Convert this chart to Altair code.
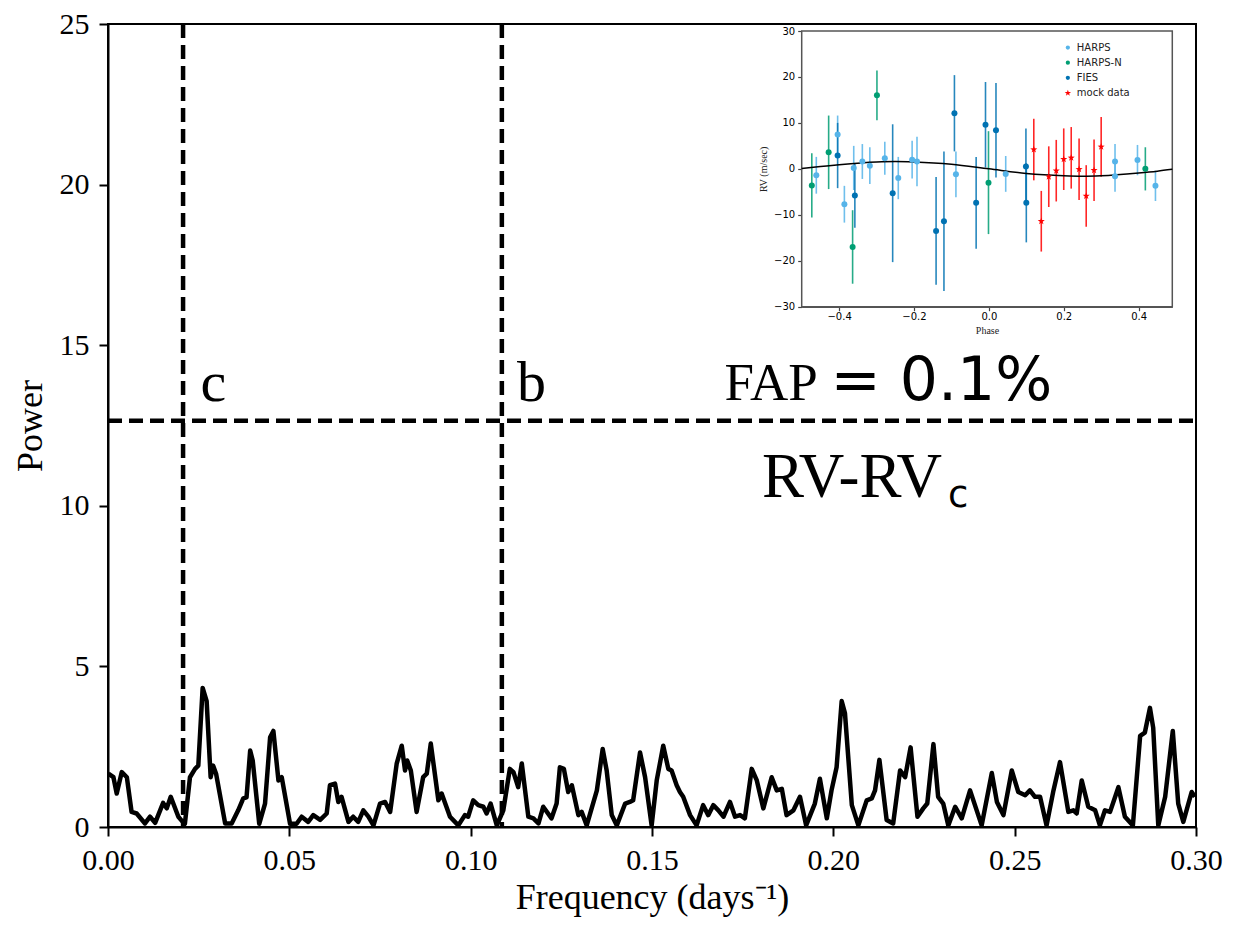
import altair as alt
import pandas as pd

# ---------------- main periodogram (RV - RV_c) ----------------
freq = [0.0001, 0.0015, 0.0024, 0.0038, 0.0052, 0.0065, 0.0079, 0.0102, 0.0116, 0.0130,
        0.0152, 0.0162, 0.0173, 0.0194, 0.0206, 0.0212, 0.0226, 0.0240, 0.0249, 0.0261,
        0.0272, 0.0283, 0.0290, 0.0298, 0.0323, 0.0341, 0.0359, 0.0373, 0.0382, 0.0392,
        0.0399, 0.0417, 0.0433, 0.0447, 0.0456, 0.0470, 0.0479, 0.0502, 0.0520, 0.0534,
        0.0552, 0.0566, 0.0585, 0.0603, 0.0612, 0.0626, 0.0635, 0.0644, 0.0663, 0.0676,
        0.0690, 0.0704, 0.0718, 0.0732, 0.0750, 0.0764, 0.0778, 0.0796, 0.0810, 0.0819,
        0.0825, 0.0835, 0.0851, 0.0869, 0.0879, 0.0890, 0.0911, 0.0920, 0.0943, 0.0966,
        0.0984, 0.0993, 0.1007, 0.1021, 0.1035, 0.1044, 0.1055, 0.1072, 0.1090, 0.1108,
        0.1118, 0.1131, 0.1141, 0.1159, 0.1173, 0.1187, 0.1200, 0.1223, 0.1237, 0.1246,
        0.1257, 0.1269, 0.1279, 0.1297, 0.1306, 0.1320, 0.1348, 0.1364, 0.1375, 0.1389,
        0.1403, 0.1426, 0.1439, 0.1448, 0.1467, 0.1481, 0.1499, 0.1513, 0.1531, 0.1545,
        0.1554, 0.1568, 0.1577, 0.1586, 0.1605, 0.1623, 0.1641, 0.1655, 0.1669, 0.1683,
        0.1697, 0.1715, 0.1729, 0.1743, 0.1756, 0.1775, 0.1789, 0.1807, 0.1830, 0.1844,
        0.1858, 0.1871, 0.1890, 0.1908, 0.1925, 0.1949, 0.1963, 0.1982, 0.1995, 0.2009,
        0.2023, 0.2032, 0.2051, 0.2069, 0.2092, 0.2106, 0.2115, 0.2127, 0.2147, 0.2165,
        0.2184, 0.2198, 0.2213, 0.2232, 0.2248, 0.2259, 0.2276, 0.2289, 0.2303, 0.2317,
        0.2336, 0.2354, 0.2377, 0.2409, 0.2437, 0.2451, 0.2469, 0.2492, 0.2510, 0.2529,
        0.2542, 0.2556, 0.2570, 0.2588, 0.2607, 0.2625, 0.2648, 0.2662, 0.2671, 0.2685,
        0.2703, 0.2722, 0.2735, 0.2749, 0.2763, 0.2786, 0.2804, 0.2826, 0.2846, 0.2859,
        0.2873, 0.2882, 0.2896, 0.2915, 0.2936, 0.2951, 0.2965, 0.2988, 0.2997]
power = [1.66, 1.55, 1.04, 1.71, 1.55, 0.47, 0.42, 0.11, 0.32, 0.13,
         0.75, 0.58, 0.94, 0.32, 0.16, 0.10, 1.55, 1.81, 1.91, 4.33,
         3.92, 1.55, 1.91, 1.66, 0.11, 0.11, 0.52, 0.89, 0.92, 2.38,
         2.07, 0.10, 0.73, 2.79, 2.99, 1.45, 1.55, 0.10, 0.10, 0.32,
         0.16, 0.37, 0.22, 0.42, 1.30, 1.35, 0.78, 0.94, 0.16, 0.32,
         0.16, 0.52, 0.32, 0.05, 0.73, 0.78, 0.47, 1.97, 2.53, 1.76,
         2.07, 1.76, 0.47, 1.55, 1.66, 2.60, 0.83, 1.04, 0.32, 0.05,
         0.37, 0.32, 0.83, 0.68, 0.63, 0.42, 0.73, 0.05, 0.52, 1.81,
         1.71, 1.24, 1.98, 0.32, 0.27, 0.11, 0.63, 0.27, 0.73, 1.86,
         1.81, 1.09, 1.30, 0.37, 0.47, 0.05, 1.14, 2.43, 1.76, 0.37,
         0.05, 0.73, 0.78, 0.83, 2.32, 1.55, 0.05, 1.45, 2.53, 1.81,
         1.76, 1.30, 1.09, 0.94, 0.37, 0.05, 0.68, 0.37, 0.68, 0.52,
         0.32, 0.78, 0.32, 0.37, 0.27, 1.81, 1.45, 0.58, 1.55, 1.14,
         1.19, 0.37, 0.52, 0.94, 0.05, 0.73, 1.50, 0.27, 1.14, 1.86,
         3.92, 3.55, 0.68, 0.05, 0.83, 0.89, 1.14, 2.09, 0.22, 0.11,
         1.76, 1.55, 2.48, 0.32, 0.58, 0.73, 2.58, 0.94, 0.73, 0.05,
         0.63, 0.27, 1.14, 0.05, 1.68, 0.78, 0.37, 1.76, 1.09, 0.99,
         1.14, 0.94, 0.94, 0.05, 1.14, 2.02, 0.47, 0.52, 0.42, 1.45,
         0.63, 0.52, 0.05, 0.52, 0.47, 1.24, 0.32, 0.05, 2.84, 2.94,
         3.71, 3.09, 0.05, 0.94, 2.99, 0.73, 0.16, 1.09, 0.94]

planet_freqs = [0.0207, 0.1086]      # planet c, planet b
fap_level = [12.65]                  # FAP = 0.1 %

x_ticks = [0.00, 0.05, 0.10, 0.15, 0.20, 0.25, 0.30]
y_ticks = [0, 5, 10, 15, 20, 25]

# ---------------- inset: phase-folded RV ----------------
harps_phase = [-0.461, -0.404, -0.386, -0.361, -0.338, -0.318, -0.278, -0.242, -0.205, -0.192,
               -0.088, 0.045, 0.337, 0.337, 0.397, 0.445]
harps_rv = [-1.4, 7.5, -7.7, 0.2, 1.6, 0.7, 2.3, -2.0, 2.0, 1.6, -1.2, -1.1, 1.6, -1.6, 1.9, -3.7]
harps_err = [4.0, 4.1, 4.0, 4.8, 3.8, 4.0, 3.6, 4.6, 4.1, 5.4, 5.0, 3.9, 3.8, 3.4, 3.3, 3.3]

harpsn_phase = [-0.473, -0.428, -0.364, -0.299, -0.001, 0.418]
harpsn_rv = [-3.6, 3.6, -17.0, 16.0, -3.0, 0.0]
harpsn_err = [7.0, 8.0, 8.0, 5.4, 11.2, 4.7]

fies_phase = [-0.404, -0.358, -0.257, -0.141, -0.120, -0.092, -0.034, -0.009, 0.019, 0.099, 0.100]
fies_rv = [2.9, -5.8, -5.3, -13.5, -11.4, 12.1, -7.4, 9.6, 8.4, 0.5, -7.4]
fies_err = [7.1, 7.0, 15.0, 11.7, 15.2, 8.3, 10.0, 9.3, 10.3, 8.3, 8.6]

mock_phase = [0.120, 0.140, 0.160, 0.180, 0.200, 0.220, 0.241, 0.260, 0.281, 0.300]
mock_rv = [4.2, -11.4, -1.7, -0.4, 2.1, 2.4, -0.1, -5.9, -0.3, 4.8]
mock_err = [6.7, 6.6, 6.6, 6.7, 6.7, 6.7, 6.7, 6.7, 6.7, 6.5]

model_phase = [-0.5, -0.45, -0.4, -0.3, -0.25, -0.2, -0.1, 0.0, 0.1, 0.2, 0.25, 0.3, 0.4, 0.45, 0.49]
model_rv = [0.1, 0.5, 0.9, 1.5, 1.6, 1.5, 1.0, 0.0, -1.0, -1.5, -1.6, -1.5, -0.9, -0.5, -0.1]

instruments = ["HARPS", "HARPS-N", "FIES", "mock data"]
inst_colors = ["#56B4E9", "#009E73", "#0072B2", "#FF0000"]
STAR = ("M0,-1L0.235,-0.324L0.951,-0.309L0.38,0.124L0.588,0.809L0,0.4"
        "L-0.588,0.809L-0.38,0.124L-0.951,-0.309L-0.235,-0.324Z")

inset_x_ticks = [-0.4, -0.2, 0.0, 0.2, 0.4]
inset_y_ticks = [-30, -20, -10, 0, 10, 20, 30]

SERIF = "Liberation Serif"
SANS = "DejaVu Sans"

W, H = 1088, 803

# ---------------- scales ----------------
xs = alt.Scale(domain=[0, 0.30], nice=False, zero=False)
ys = alt.Scale(domain=[0, 25], nice=False, zero=False)
ixs = alt.Scale(domain=[-0.5, 0.49], range=[693.7, 1064.3], nice=False, zero=False)
iys = alt.Scale(domain=[-30, 30], range=[282.7, 7], nice=False, zero=False)

# ---------------- main layers ----------------
main_df = pd.DataFrame({"freq": freq, "power": power})

x_axis = alt.Axis(values=x_ticks, format=".2f", title="Frequency (days\u207b\u00b9)",
                  labelFont=SERIF, labelFontSize=30, titleFont=SERIF, titleFontSize=36,
                  titleFontWeight="normal", tickSize=9, tickWidth=2, tickColor="black",
                  domainColor="black", domainWidth=2, labelColor="black", titleColor="black",
                  grid=False, labelPadding=9, titlePadding=5, labelFlush=False, labelOverlap=False)
y_axis = alt.Axis(values=y_ticks, title="Power",
                  labelFont=SERIF, labelFontSize=30, titleFont=SERIF, titleFontSize=36,
                  titleFontWeight="normal", tickSize=9, tickWidth=2, tickColor="black",
                  domainColor="black", domainWidth=2, labelColor="black", titleColor="black",
                  grid=False, labelPadding=10, titlePadding=10, labelFlush=False, labelOverlap=False)

line = alt.Chart(main_df).mark_line(color="black", strokeWidth=4.5, strokeJoin="round").encode(
    x=alt.X("freq:Q", scale=xs, axis=x_axis),
    y=alt.Y("power:Q", scale=ys, axis=y_axis),
)

vrules = alt.Chart(pd.DataFrame({"freq": planet_freqs})).mark_rule(
    color="black", strokeWidth=4.5, strokeDash=[14, 7]).encode(
    x=alt.X("freq:Q", scale=xs, axis=None),
    y=alt.value(0), y2=alt.value(H))
hrule = alt.Chart(pd.DataFrame({"power": fap_level})).mark_rule(
    color="black", strokeWidth=4.5, strokeDash=[14, 7]).encode(
    y=alt.Y("power:Q", scale=ys, axis=None),
    x=alt.value(0), x2=alt.value(W))


def label(text, fx, py, font, size):
    df = pd.DataFrame({"freq": [fx], "power": [py], "t": [text]})
    return alt.Chart(df).mark_text(font=font, fontSize=size, align="left", baseline="alphabetic",
                                   color="black").encode(
        x=alt.X("freq:Q", scale=xs, axis=None),
        y=alt.Y("power:Q", scale=ys, axis=None),
        text="t:N")


texts = [
    label("c", 0.0255, 13.25, SERIF, 58),
    label("b", 0.1128, 13.25, SERIF, 58),
    label("FAP", 0.1700, 13.29, SERIF, 53),
    label("= 0.1%", 0.1992, 13.29, SANS, 60),
    label("RV-RV", 0.1803, 10.27, SERIF, 63),
    label("c", 0.2316, 9.96, SANS, 37),
]

# ---------------- inset layers ----------------
rows = []
for name, col, ph, rv, er in [("HARPS", inst_colors[0], harps_phase, harps_rv, harps_err),
                              ("HARPS-N", inst_colors[1], harpsn_phase, harpsn_rv, harpsn_err),
                              ("FIES", inst_colors[2], fies_phase, fies_rv, fies_err),
                              ("mock data", inst_colors[3], mock_phase, mock_rv, mock_err)]:
    for p, r, e in zip(ph, rv, er):
        rows.append({"inst": name, "col": col, "phase": p, "rv": r, "lo": r - e, "hi": r + e})
rv_df = pd.DataFrame(rows)
obs_df = rv_df[rv_df["inst"] != "mock data"]
mock_df = rv_df[rv_df["inst"] == "mock data"]
model_df = pd.DataFrame({"phase": model_phase, "rv": model_rv})

ix_axis = alt.Axis(orient="bottom", offset=-(H - 282.7), values=inset_x_ticks, format=".1f",
                   title="Phase", labelFont=SANS, labelFontSize=10, titleFont=SERIF,
                   titleFontSize=10, titleFontWeight="normal", tickSize=4, tickWidth=1.2,
                   tickColor="#444", domainColor="#555", domainWidth=1.5, labelColor="black",
                   titleColor="#222", grid=False, labelPadding=1, titlePadding=4,
                   labelFlush=False, labelOverlap=False)
iy_axis = alt.Axis(orient="left", offset=-693.7, values=inset_y_ticks,
                   title="RV (m/sec)", labelFont=SANS, labelFontSize=10, titleFont=SERIF,
                   titleFontSize=10, titleFontWeight="normal", tickSize=4, tickWidth=1.2,
                   tickColor="#444", domainColor="#555", domainWidth=1.5, labelColor="black",
                   titleColor="#222", grid=False, labelPadding=3, titlePadding=5,
                   labelFlush=False, labelOverlap=False)

frame = alt.Chart(pd.DataFrame({"x1": [-0.5], "x2": [0.49], "y1": [-30], "y2": [30]})).mark_rect(
    fill="white", stroke="#555", strokeWidth=1.5).encode(
    x=alt.X("x1:Q", scale=ixs, axis=None), x2="x2:Q",
    y=alt.Y("y1:Q", scale=iys, axis=None), y2="y2:Q")

errbars = alt.Chart(rv_df).mark_rule(strokeWidth=1.6, opacity=0.85).encode(
    x=alt.X("phase:Q", scale=ixs, axis=None),
    y=alt.Y("lo:Q", scale=iys, axis=None), y2="hi:Q",
    color=alt.Color("col:N", scale=None))

model = alt.Chart(model_df).mark_line(color="black", strokeWidth=1.5, interpolate="monotone").encode(
    x=alt.X("phase:Q", scale=ixs, axis=None),
    y=alt.Y("rv:Q", scale=iys, axis=None))

circles = alt.Chart(obs_df).mark_circle(size=36, opacity=1).encode(
    x=alt.X("phase:Q", scale=ixs, axis=ix_axis),
    y=alt.Y("rv:Q", scale=iys, axis=iy_axis),
    color=alt.Color("col:N", scale=None))

stars = alt.Chart(mock_df).mark_point(shape=STAR, filled=True, size=55, opacity=1,
                                      color=inst_colors[3]).encode(
    x=alt.X("phase:Q", scale=ixs, axis=None),
    y=alt.Y("rv:Q", scale=iys, axis=None))

# legend of the inset (drawn as marks, in inset coordinates)
leg_phase = [0.211] * 4
leg_rv = [26.4, 23.1, 19.8, 16.5]
leg_df = pd.DataFrame({"phase": leg_phase, "rv": leg_rv, "inst": instruments, "col": inst_colors,
                       "tx": [0.235] * 4})
leg_circ = alt.Chart(leg_df.iloc[:3]).mark_circle(size=18, opacity=1).encode(
    x=alt.X("phase:Q", scale=ixs, axis=None),
    y=alt.Y("rv:Q", scale=iys, axis=None),
    color=alt.Color("col:N", scale=None))
leg_star = alt.Chart(leg_df.iloc[3:]).mark_point(shape=STAR, filled=True, size=45, opacity=1,
                                                 color=inst_colors[3]).encode(
    x=alt.X("phase:Q", scale=ixs, axis=None),
    y=alt.Y("rv:Q", scale=iys, axis=None))
leg_text = alt.Chart(leg_df).mark_text(font=SANS, fontSize=10, align="left", baseline="middle",
                                       color="#222").encode(
    x=alt.X("tx:Q", scale=ixs, axis=None),
    y=alt.Y("rv:Q", scale=iys, axis=None),
    text="inst:N")

chart = alt.layer(
    line, vrules, hrule, *texts,
    frame, errbars, model, circles, stars, leg_circ, leg_star, leg_text
).resolve_scale(
    x="independent", y="independent"
).properties(
    width=W, height=H,
    autosize=alt.AutoSizeParams(type="none"),
    padding={"left": 100, "top": 16, "right": 29, "bottom": 94},
    background="white",
).configure_view(stroke="black", strokeWidth=2)

chart.save("out.html", embed_options={"renderer": "svg", "actions": False})
